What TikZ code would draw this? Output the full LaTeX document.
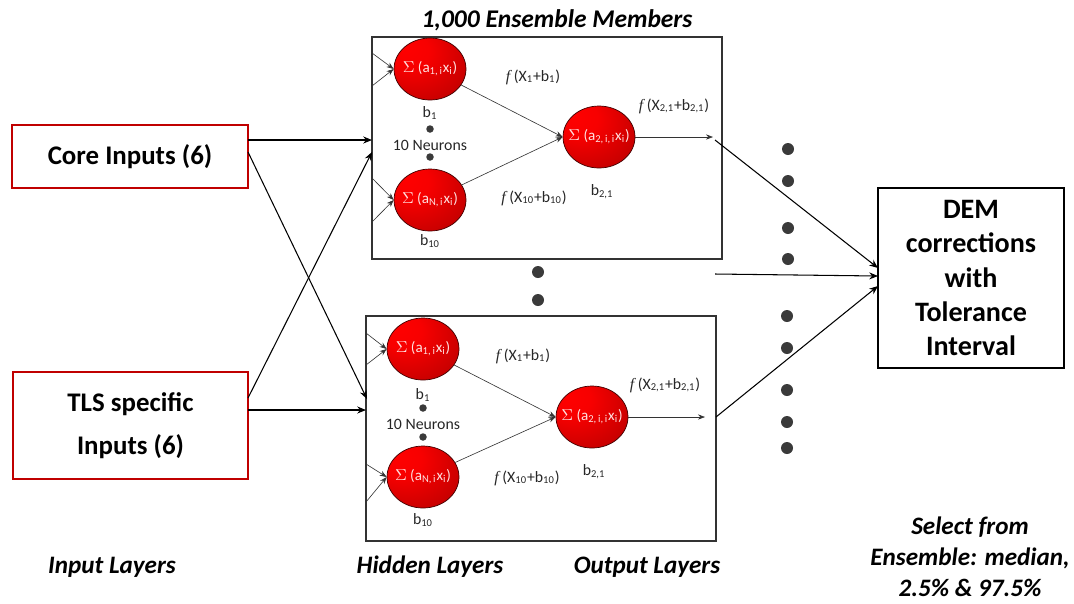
\documentclass[tikz,border=0pt]{standalone}
\usepackage{fontspec}
\setmainfont{Carlito}
\newfontfamily\fserif{Liberation Serif}
\usetikzlibrary{arrows.meta,shapes.geometric}
\pgfdeclareradialshading{redball}{\pgfpoint{-18bp}{18bp}}{color(0bp)=(red); color(14bp)=(red!97!black); color(45bp)=(red!72!black); color(75bp)=(red!50!black)}
\definecolor{inred}{HTML}{C00000}
\definecolor{dotgray}{HTML}{3A3A3A}
\newcommand{\ff}{{\fserif\itshape f}}
\begin{document}
\begin{tikzpicture}[x=0.02cm,y=-0.02cm,
  neuron/.style={ellipse, draw=red!25!black, line width=0.4pt, shading=redball,
    minimum width=1.44cm, minimum height=1.24cm, inner xsep=-12pt, inner ysep=-6pt,
    text=white!88!red, font=\fontsize{8.6}{10}\selectfont},
  lbl/.style={text=black!85, font=\fontsize{9}{10}\selectfont, inner sep=1pt},
  ens/.style={draw=black!80, line width=0.8pt, minimum width=7cm, inner sep=0pt},
  inbox/.style={draw=inred, line width=1.1pt, inner sep=0pt, align=center,
    font=\bfseries\fontsize{15.3}{24.5}\selectfont},
  big/.style={draw=black, line width=1.3pt, inner sep=0pt, align=center,
    font=\bfseries\fontsize{16}{19.5}\selectfont, minimum width=3.72cm, minimum height=3.6cm},
  capt/.style={font=\bfseries\itshape\fontsize{14.3}{17.5}\selectfont, align=center},
  arr/.style={-{Stealth[length=5pt,width=4pt]}, line width=0.6pt},
  sarr/.style={-{Stealth[length=4pt,width=3pt]}, line width=0.35pt, draw=black!80},
  bigdot/.style={circle, fill=dotgray, minimum size=0.24cm, inner sep=0pt},
  smdot/.style={circle, fill=dotgray, minimum size=0.15cm, inner sep=0pt}]
\useasboundingbox (0,0) rectangle (1074,603);

% title
\node[font=\bfseries\itshape\fontsize{14.5}{16}\selectfont] (title) at (557,20) {1,000 Ensemble Members};

% ensemble boxes
\node[ens, minimum height=4.44cm] (box1) at (547,148) {};
\node[ens, minimum height=4.5cm] (box2) at (541,428.5) {};

% input boxes
\node[inbox, minimum width=4.72cm, minimum height=1.26cm] (core) at (130,156.5) {Core Inputs (6)};
\node[inbox, minimum width=4.7cm, minimum height=2.14cm] (tls) at (130.5,425.5) {TLS specific\\Inputs (6)};

% output box
\node[big] (dem) at (971,278) {DEM\\corrections\\with\\Tolerance\\Interval};

% ---------- top ensemble member ----------
\node[neuron] (a1) at (430,69) {$\Sigma$ (a\textsubscript{1,\,i}x\textsubscript{i})};
\node[neuron] (a2) at (430,200) {$\Sigma$ (a\textsubscript{N,\,i}x\textsubscript{i})};
\node[neuron] (ao) at (599,137) {$\Sigma$ (a\textsubscript{2,\,i,\,i}x\textsubscript{i})};
\node[lbl] (b1) at (430,113) {b\textsubscript{1}};
\node[smdot] (d1) at (430,129) {};
\node[lbl] (ne1) at (430,145) {10 Neurons};
\node[smdot] (d2) at (430,157) {};
\node[lbl] (b10) at (430,241) {b\textsubscript{10}};
\node[lbl] (b21) at (602,192) {b\textsubscript{2,1}};
\node[lbl] (f1) at (533,77) {\ff\ (X\textsubscript{1}+b\textsubscript{1})};
\node[lbl] (f10) at (534,198) {\ff\ (X\textsubscript{10}+b\textsubscript{10})};
\node[lbl] (f21) at (674,106) {\ff\ (X\textsubscript{2,1}+b\textsubscript{2,1})};
\coordinate (t1) at (372,53);
\coordinate (t2) at (372,86);
\coordinate (t3) at (372,178);
\coordinate (t4) at (372,222);
\coordinate (tout) at (713,137);
\draw[sarr] (t1) -- (a1.west);
\draw[sarr] (t2) -- (a1.west);
\draw[sarr] (t3) -- (a2.west);
\draw[sarr] (t4) -- (a2.west);
\draw[sarr] (a1) -- (ao.west);
\draw[sarr] (a2) -- (ao.west);
\draw[sarr] (ao.east) -- (tout);

% ---------- bottom ensemble member ----------
\node[neuron] (c1) at (423,349) {$\Sigma$ (a\textsubscript{1,\,i}x\textsubscript{i})};
\node[neuron] (c2) at (423,477) {$\Sigma$ (a\textsubscript{N,\,i}x\textsubscript{i})};
\node[neuron] (co) at (592,417) {$\Sigma$ (a\textsubscript{2,\,i,\,i}x\textsubscript{i})};
\node[lbl] (bb1) at (423,395) {b\textsubscript{1}};
\node[smdot] (e1) at (423,408) {};
\node[lbl] (ne2) at (423,424) {10 Neurons};
\node[smdot] (e2) at (423,437) {};
\node[lbl] (bb10) at (423,520) {b\textsubscript{10}};
\node[lbl] (bb21) at (594,472) {b\textsubscript{2,1}};
\node[lbl] (g1) at (523,356) {\ff\ (X\textsubscript{1}+b\textsubscript{1})};
\node[lbl] (g10) at (527,478) {\ff\ (X\textsubscript{10}+b\textsubscript{10})};
\node[lbl] (g21) at (665,385) {\ff\ (X\textsubscript{2,1}+b\textsubscript{2,1})};
\coordinate (s1) at (366,333);
\coordinate (s2) at (366,365);
\coordinate (s3) at (366,464);
\coordinate (s4) at (366,502);
\coordinate (sout) at (705,417);
\draw[sarr] (s1) -- (c1.west);
\draw[sarr] (s2) -- (c1.west);
\draw[sarr] (s3) -- (c2.west);
\draw[sarr] (s4) -- (c2.west);
\draw[sarr] (c1) -- (co.west);
\draw[sarr] (c2) -- (co.west);
\draw[sarr] (co.east) -- (sout);

% ---------- inputs to ensemble ----------
\coordinate (coreA) at (248,140);
\coordinate (coreB) at (248,152);
\coordinate (tlsA) at (248,398);
\coordinate (tlsB) at (248,410);
\coordinate (top1) at (372,140);
\coordinate (top2) at (372,152);
\coordinate (bot1) at (367,399);
\coordinate (bot2) at (366,410);
\draw[arr] (coreA) -- (top1);
\draw[arr] (coreB) -- (bot1);
\draw[arr] (tlsA) -- (top2);
\draw[arr] (tlsB) -- (bot2);

% ---------- to output ----------
\coordinate (o1) at (715,140);
\coordinate (o2) at (715,274);
\coordinate (o3) at (716,417);
\coordinate (dA) at (878,268);
\coordinate (dB) at (878,276);
\coordinate (dC) at (878,286);
\draw[arr] (o1) -- (dA);
\draw[arr] (o2) -- (dB);
\draw[arr] (o3) -- (dC);

% dots
\node[bigdot] (m1) at (538,272) {};
\node[bigdot] (m2) at (538,300) {};
\foreach \yy [count=\i] in {149,181,228,259} {\node[bigdot] (r\i) at (788,\yy) {};}
\foreach \yy [count=\i] in {316,348,390,422,448} {\node[bigdot] (q\i) at (787,\yy) {};}

% captions
\node[capt] (il) at (112,567) {Input Layers};
\node[capt] (hl) at (430,567) {Hidden Layers};
\node[capt] (ol) at (647,567) {Output Layers};
\node[capt] (sel) at (970,557) {Select from\\Ensemble: median,\\2.5\% \& 97.5\%};
\end{tikzpicture}
\end{document}
